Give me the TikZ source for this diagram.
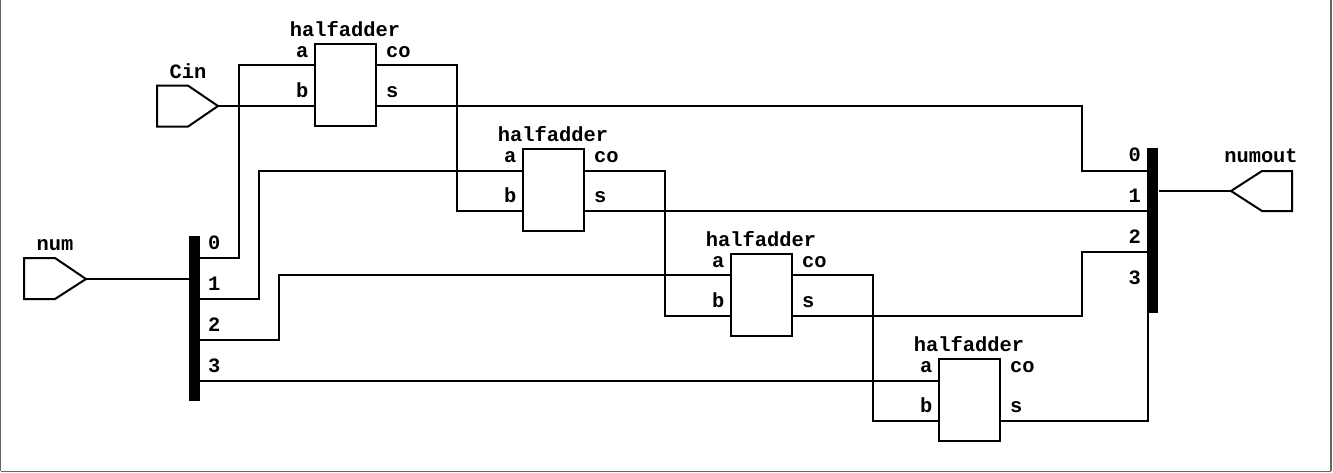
\documentclass[tikz,border=0pt]{standalone}
\usepackage{fontspec}
\setmainfont{Liberation Mono}
\tikzset{
  wire/.style={line width=2pt,line join=miter,line cap=rect},
  hbox/.style={draw,line width=2pt,rectangle,inner sep=0pt,outer sep=0pt,minimum width=61pt,minimum height=82pt,anchor=north west},
  bus/.style={fill=black,rectangle,inner sep=0pt,outer sep=0pt,minimum width=11.7pt,minimum height=165pt,anchor=north west},
  lbl/.style={inner sep=0pt,font=\fontsize{20.4}{24}\selectfont\bfseries,anchor=base},
  lbll/.style={lbl,anchor=base west},
  lblr/.style={lbl,anchor=base east},
  portshape/.style={line width=2pt,line join=miter},
}
% name, box x, box y, y of pin a, y of pin b
\newcommand{\hadder}[5]{%
  \node[hbox] (#1) at (#2,#3) {};
  \node[lbl]  (#1t) at (#2+30,#3-8) {halfadder};
  \node[lblr] (#1la) at (#2-6.5,#3+13) {a};
  \node[lblr] (#1lb) at (#2-6.5,#3+53) {b};
  \node[lbll] (#1lc) at (#2+71,#3+13) {co};
  \node[lbll] (#1ls) at (#2+71,#3+53) {s};
  \coordinate (#1a) at (#2,#4);
  \coordinate (#1b) at (#2,#5);
  \coordinate (#1c) at (#2+63,#4);
  \coordinate (#1s) at (#2+63,#5);
}
\begin{document}
\begin{tikzpicture}[x=1pt,y=-1pt]
\useasboundingbox (0,0) rectangle (1333,472);
% frame
\coordinate (f1) at (0.5,0);
\coordinate (f2) at (0.5,471.4);
\coordinate (f3) at (1331,471.4);
\coordinate (f4) at (1331,0);
\draw[line width=1.2pt,black!60] (f1) -- (f2);
\draw[line width=1.3pt,black!60] (f2) -- (f3);
\draw[line width=2.5pt,black!60] (f3) -- (f4);
% half adders
\hadder{ha}{315}{44}{65}{106}
\hadder{hb}{523}{149}{171}{211}
\hadder{hc}{731}{254}{275}{316}
\hadder{hd}{939}{359}{381}{421}
% buses
\node[bus] (lb) at (188.5,236) {};
\node[bus] (rb) at (1146.5,148) {};
\foreach \n/\yy/\t in {l0/249/0,l1/290/1,l2/331/2,l3/372/3}{
  \node[lbll] (\n) at (208,\yy) {\t};
}
\foreach \n/\yy/\t in {r0/161.5/0,r1/202.5/1,r2/243.5/2,r3/284.5/3}{
  \node[lblr] (\n) at (1141,\yy) {\t};
}
% ports
\coordinate (cin) at (218,106);
\coordinate (numt) at (86,279);
\coordinate (outt) at (1231,191);
\draw[portshape] (157,85.6) -- (188,85.6) -- (cin) -- (188,126.6) -- (157,126.6) -- cycle;
\draw[portshape] (24,258) -- (55,258) -- (numt) -- (55,299) -- (24,299) -- cycle;
\draw[portshape] (outt) -- (1262,171) -- (1292,171) -- (1292,211) -- (1262,211) -- cycle;
\node[lbl] (cinl) at (188,78) {Cin};
\node[lbl] (numl) at (55,250) {num};
\node[lbl] (outl) at (1261,162) {numout};
% bus pins
\coordinate (lbi) at (188.5,279);
\coordinate (lo0) at (200,258);
\coordinate (lo1) at (200,299);
\coordinate (lo2) at (200,340);
\coordinate (lo3) at (200,381);
\coordinate (ri0) at (1146.5,171);
\coordinate (ri1) at (1146.5,211);
\coordinate (ri2) at (1146.5,252);
\coordinate (ri3) at (1148,313);
\coordinate (rbo) at (1160,191);
% wires
\draw[wire] (numt) -- (lbi);
\draw[wire] (cin) -- (hab);
\draw[wire] (lo0) -| (239,65) -- (haa);
\draw[wire] (lo1) -| (259,171) -- (hba);
\draw[wire] (lo2) -| (279,275) -- (hca);
\draw[wire] (lo3) -- (hda);
\draw[wire] (hac) -| (457,211) -- (hbb);
\draw[wire] (hbc) -| (665,316) -- (hcb);
\draw[wire] (hcc) -| (873,421) -- (hdb);
\draw[wire] (has) -| (1082,171) -- (ri0);
\draw[wire] (hbs) -- (ri1);
\draw[wire] (hcs) -| (1082,252) -- (ri2);
\draw[wire] (hds) -| (ri3);
\draw[wire] (rbo) -- (outt);
\end{tikzpicture}
\end{document}
